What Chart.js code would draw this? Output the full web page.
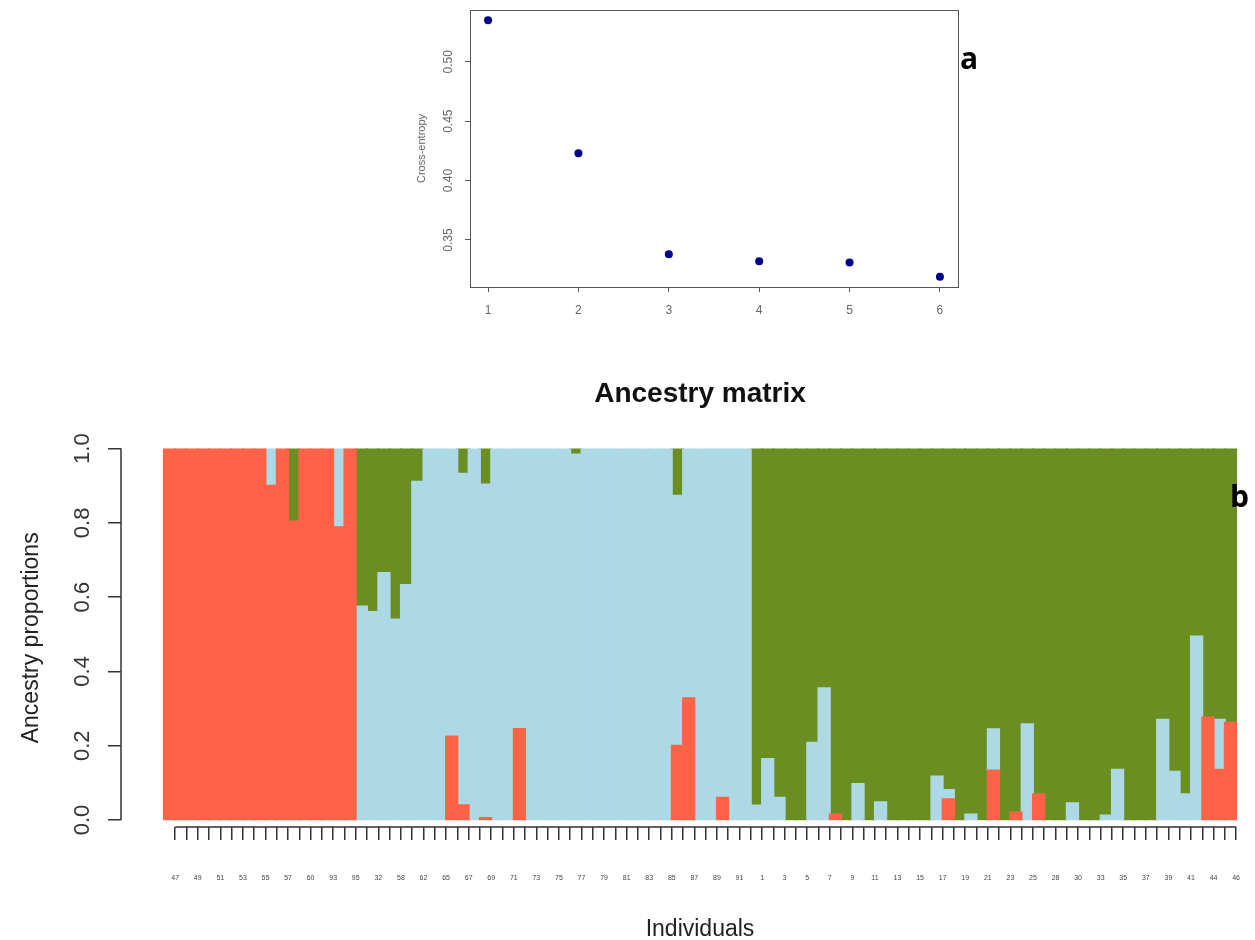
<!DOCTYPE html>
<html>
<head>
<meta charset="utf-8">
<script src="https://cdn.jsdelivr.net/npm/chart.js@4.4.1/dist/chart.umd.min.js"></script>
<style>
  body { margin: 0; background: #fff; }
  #page { position: relative; width: 1255px; height: 940px; overflow: hidden; }
  canvas { position: absolute; }
  .panel { position: absolute; font: 700 30px/30px "Open Sans", sans-serif; color: #000; }
</style>
</head>
<body>
<div id="page">
  <canvas id="entropy" width="620" height="330" style="left:380px;top:0"></canvas>
  <canvas id="ancestry" width="1290" height="620" style="left:0;top:340px"></canvas>
  <div class="panel" style="left:960px;top:43px">a</div>
  <div class="panel" style="left:1230px;top:481px">b</div>
</div>
<script>
// panel a: cross-entropy for K = 1..6
const kValues = [1, 2, 3, 4, 5, 6];
const crossEntropy = [0.535, 0.423, 0.338, 0.332, 0.331, 0.319];
const entropyTicks = [0.35, 0.40, 0.45, 0.50];

// panel b: ancestry proportions per individual (K = 3)
const individuals = [
  "47","48","49","50","51","52","53","54","55","56","57","59","60","64","93","94","95",
  "27","32","43","58","61","62","63","65","66","67","68","69","70","71","72","73","74","75",
  "76","77","78","79","80","81","82","83","84","85","86","87","88","89","90","91","92",
  "1","2","3","4","5","6","7","8","9","10","11","12","13","14","15","16","17","18","19","20",
  "21","22","23","24","25","26","28","29","30","31","33","34","35","36","37","38","39","40",
  "41","42","44","45","46"
];
const clusterRed = [
  1, 1, 1, 1, 1, 1, 1, 1, 1, 0.9,
  1, 0.804, 1, 1, 1, 0.788, 1, 0, 0, 0,
  0, 0, 0, 0, 0, 0.225, 0.04, 0, 0.005, 0,
  0, 0.245, 0, 0, 0, 0, 0, 0, 0, 0,
  0, 0, 0, 0, 0, 0.2, 0.328, 0, 0, 0.06,
  0, 0, 0, 0, 0, 0, 0, 0, 0, 0.015,
  0, 0, 0, 0, 0, 0, 0, 0, 0, 0.056,
  0, 0, 0, 0.133, 0, 0.02, 0, 0.069, 0, 0,
  0, 0, 0, 0, 0, 0, 0, 0, 0, 0,
  0, 0, 0.276, 0.135, 0.262
];
const clusterBlue = [
  0, 0, 0, 0, 0, 0, 0, 0, 0, 0.1,
  0, 0, 0, 0, 0, 0.212, 0, 0.575, 0.56, 0.665,
  0.54, 0.633, 0.911, 1, 1, 0.775, 0.892, 1, 0.898, 1,
  1, 0.755, 1, 1, 1, 1, 0.984, 1, 1, 1,
  1, 1, 1, 1, 1, 0.673, 0.672, 1, 1, 0.94,
  1, 1, 0.039, 0.164, 0.06, 0, 0, 0.208, 0.355, 0,
  0, 0.097, 0, 0.048, 0, 0, 0, 0, 0.117, 0.025,
  0, 0.015, 0, 0.111, 0, 0, 0.258, 0, 0, 0,
  0.045, 0, 0, 0.012, 0.135, 0, 0, 0, 0.27, 0.13,
  0.069, 0.494, 0, 0.135, 0
];
const clusterGreen = [
  0, 0, 0, 0, 0, 0, 0, 0, 0, 0,
  0, 0.196, 0, 0, 0, 0, 0, 0.425, 0.44, 0.335,
  0.46, 0.367, 0.089, 0, 0, 0, 0.068, 0, 0.097, 0,
  0, 0, 0, 0, 0, 0, 0.016, 0, 0, 0,
  0, 0, 0, 0, 0, 0.127, 0, 0, 0, 0,
  0, 0, 0.961, 0.836, 0.94, 1, 1, 0.792, 0.645, 0.985,
  1, 0.903, 1, 0.952, 1, 1, 1, 1, 0.883, 0.919,
  1, 0.985, 1, 0.756, 1, 0.98, 0.742, 0.931, 1, 1,
  0.955, 1, 1, 0.988, 0.865, 1, 1, 1, 0.73, 0.87,
  0.931, 0.506, 0.724, 0.73, 0.738
];
const proportionTicks = [0, 0.2, 0.4, 0.6, 0.8, 1];

Chart.defaults.font.family = "'Liberation Sans', Arial, sans-serif";
Chart.defaults.animation = false;

// R style box around the plot region
const boxFrame = {
  id: 'boxFrame',
  afterDraw(chart) {
    const { ctx, chartArea: a } = chart;
    ctx.save();
    ctx.strokeStyle = '#555';
    ctx.lineWidth = 1;
    ctx.strokeRect(Math.round(a.left) + 0.5, Math.round(a.top) + 0.5, Math.round(a.width), Math.round(a.height));
    ctx.restore();
  }
};

// R axis lines only run from first to last tick
const rAxes = {
  id: 'rAxes',
  afterDraw(chart) {
    const { ctx, chartArea, scales: { x, y } } = chart;
    ctx.save();
    ctx.strokeStyle = '#333';
    ctx.lineWidth = 1.5;
    ctx.beginPath();
    ctx.moveTo(chartArea.left, y.getPixelForValue(0));
    ctx.lineTo(chartArea.left, y.getPixelForValue(1));
    ctx.moveTo(x.getPixelForValue(1), chartArea.bottom);
    ctx.lineTo(x.getPixelForValue(individuals.length), chartArea.bottom);
    ctx.stroke();
    ctx.restore();
  }
};

new Chart(document.getElementById('entropy'), {
  type: 'scatter',
  data: {
    datasets: [{
      data: kValues.map((k, i) => ({ x: k, y: crossEntropy[i] })),
      backgroundColor: '#00008b',
      borderColor: '#00008b',
      pointRadius: 4,
      pointBorderWidth: 0
    }]
  },
  options: {
    responsive: false,
    layout: { padding: { top: 10, right: 42, bottom: 0, left: 0 } },
    plugins: { legend: { display: false }, tooltip: { enabled: false } },
    scales: {
      x: {
        type: 'linear', min: 0.8, max: 6.2,
        afterBuildTicks: s => { s.ticks = kValues.map(v => ({ value: v })); },
        afterFit: s => { s.height = 43; s.paddingLeft = 0; s.paddingRight = 0; },
        border: { display: false },
        grid: { drawOnChartArea: false, tickLength: 5, color: '#555' },
        ticks: { color: '#666', font: { size: 12 }, padding: 11, maxRotation: 0, callback: v => String(v) }
      },
      y: {
        min: 0.3104, max: 0.5436,
        afterBuildTicks: s => { s.ticks = entropyTicks.map(v => ({ value: v })); },
        afterFit: s => { s.width = 90; s.paddingTop = 0; s.paddingBottom = 0; },
        border: { display: false },
        grid: { drawOnChartArea: false, tickLength: 5, color: '#555' },
        ticks: {
          color: '#666', font: { size: 12 }, padding: 5,
          minRotation: 90, maxRotation: 90, crossAlign: 'center',
          callback: v => v.toFixed(2)
        },
        title: { display: true, text: 'Cross-entropy', color: '#666', font: { size: 11 }, padding: { top: 35, bottom: 0 } }
      }
    }
  },
  plugins: [boxFrame]
});

const toBars = arr => arr.map((v, i) => ({ x: i + 0.5, y: v > 0 ? v : null }));
const pad = 0.04 * individuals.length;

new Chart(document.getElementById('ancestry'), {
  type: 'bar',
  data: {
    datasets: [
      { label: 'K1', data: toBars(clusterRed), backgroundColor: '#ff6347' },
      { label: 'K2', data: toBars(clusterBlue), backgroundColor: '#add8e6' },
      { label: 'K3', data: toBars(clusterGreen), backgroundColor: '#6b8e23' }
    ]
  },
  options: {
    responsive: false,
    barPercentage: 1,
    categoryPercentage: 1,
    inflateAmount: 1,
    layout: { padding: { top: 0, right: 11, bottom: 0, left: 0 } },
    plugins: {
      legend: { display: false },
      tooltip: { enabled: false },
      title: {
        display: true, text: 'Ancestry matrix', fullSize: false, color: '#111',
        font: { size: 28, weight: 'bold' }, padding: { top: 37, bottom: 38 }
      }
    },
    scales: {
      x: {
        type: 'linear', stacked: true, offset: false,
        min: -pad, max: individuals.length + pad,
        afterBuildTicks: s => { s.ticks = individuals.map((_, i) => ({ value: i + 1 })); },
        afterFit: s => { s.height = 133; s.paddingLeft = 0; s.paddingRight = 0; },
        border: { display: false },
        grid: { offset: false, drawOnChartArea: false, tickLength: 13, color: '#333', lineWidth: 1.5 },
        ticks: {
          autoSkip: false, maxRotation: 0, color: '#444', font: { size: 7 }, padding: 34,
          callback: v => ((v - 1) % 2 === 0 ? individuals[v - 1] : '')
        },
        title: { display: true, text: 'Individuals', color: '#222', font: { size: 23 }, padding: { top: 0, bottom: 17 } }
      },
      y: {
        stacked: true, min: -0.0189, max: 1,
        afterBuildTicks: s => { s.ticks = proportionTicks.map(v => ({ value: v })); },
        afterFit: s => { s.width = 121; s.paddingTop = 0; s.paddingBottom = 0; },
        border: { display: false },
        grid: { drawOnChartArea: false, tickLength: 13, color: '#333', lineWidth: 1.5 },
        ticks: {
          color: '#333', font: { size: 22 }, padding: 10,
          minRotation: 90, maxRotation: 90, crossAlign: 'center',
          callback: v => v.toFixed(1)
        },
        title: { display: true, text: 'Ancestry proportions', color: '#222', font: { size: 23 }, padding: { top: 18, bottom: 0 } }
      }
    }
  },
  plugins: [rAxes]
});
</script>
</body>
</html>
